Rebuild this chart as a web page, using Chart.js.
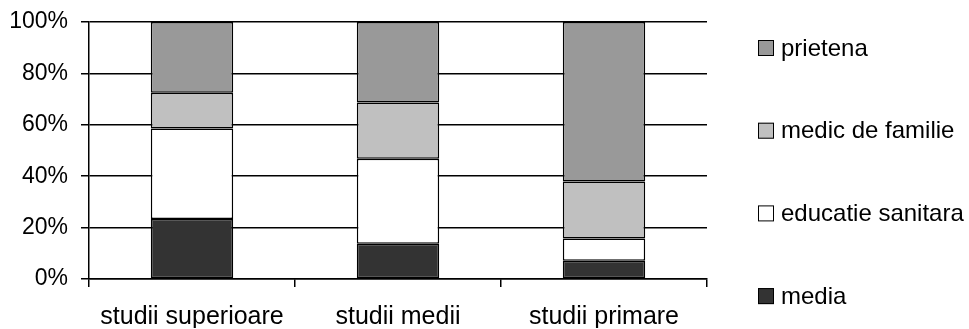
<!DOCTYPE html>
<html>
<head>
<meta charset="utf-8">
<script src="https://cdn.jsdelivr.net/npm/chart.js@4"></script>
<style>
  html, body { margin: 0; padding: 0; background: #fff; }
  #wrap { width: 969px; height: 329px; }
</style>
</head>
<body>
<div id="wrap"><canvas id="chart-studii"></canvas></div>
<script>
  // values, percent of each group
  let categories = ['studii superioare', 'studii medii', 'studii primare'];
  let media = [23.3, 13.7, 7.1];
  let educatie = [35.3, 33.1, 8.7];
  let medic = [13.9, 21.9, 22.1];
  let prietena = [27.5, 31.3, 62.1];
  let yTicks = [0, 20, 40, 60, 80, 100];

  let font = '"Liberation Sans", Arial, sans-serif';

  // legend drawn at the right, top item = top of the stack
  const sideLegend = {
    id: 'sideLegend',
    afterDraw(chart) {
      let ctx = chart.ctx;
      let area = chart.chartArea;
      let sets = chart.data.datasets.slice().reverse();
      ctx.save();
      ctx.font = '24px ' + font;
      ctx.textBaseline = 'middle';
      sets.forEach((ds, i) => {
        let x = area.right + 51;
        let y = 48 + i * 82.7;
        ctx.fillStyle = ds.backgroundColor;
        ctx.fillRect(x, y - 8, 16, 16);
        ctx.strokeStyle = '#000';
        ctx.lineWidth = 1;
        ctx.strokeRect(x + 0.5, y - 7.5, 15, 15);
        ctx.fillStyle = '#000';
        ctx.fillText(ds.label, x + 23, y + 1);
      });
      ctx.restore();
    }
  };

  function makeSet(label, values, color) {
    return {
      label: label,
      data: values,
      backgroundColor: color,
      borderColor: '#000',
      borderWidth: 1.5,
      borderSkipped: false,
      inflateAmount: 0,
      categoryPercentage: 1,
      barPercentage: 0.4
    };
  }

  let ctx = document.getElementById('chart-studii');
  let myChart = new Chart(ctx, {
    type: 'bar',
    data: {
      labels: categories,
      datasets: [
        makeSet('media', media, '#333333'),
        makeSet('educatie sanitara', educatie, '#ffffff'),
        makeSet('medic de familie', medic, '#c0c0c0'),
        makeSet('prietena', prietena, '#999999')
      ]
    },
    options: {
      responsive: true,
      maintainAspectRatio: false,
      animation: false,
      layout: { padding: { left: 9, top: 22, right: 262, bottom: 1 } },
      plugins: {
        legend: { display: false },
        tooltip: { enabled: false }
      },
      scales: {
        x: {
          stacked: true,
          afterFit: s => { s.height = 49; },
          grid: {
            offset: true,
            color: c => c.index === categories.length ? '#000' : 'rgba(0,0,0,0)',
            tickColor: '#000',
            tickLength: 8,
            lineWidth: 1.5
          },
          border: { display: true, color: '#000', width: 1.5 },
          ticks: { color: '#000', font: { family: font, size: 25 }, padding: 15, maxRotation: 0 }
        },
        y: {
          stacked: true,
          min: 0,
          max: 100,
          afterFit: s => { s.width = 80; s.paddingTop = 0; s.paddingBottom = 0; },
          afterBuildTicks: axis => { axis.ticks = yTicks.map(v => ({ value: v })); },
          grid: { color: '#000', tickLength: 8, lineWidth: 1.5 },
          border: { display: true, color: '#000', width: 1.5 },
          ticks: {
            color: '#000',
            font: { family: font, size: 23 },
            padding: 13,
            callback: v => v + '%'
          }
        }
      }
    },
    plugins: [sideLegend]
  });
</script>
</body>
</html>
